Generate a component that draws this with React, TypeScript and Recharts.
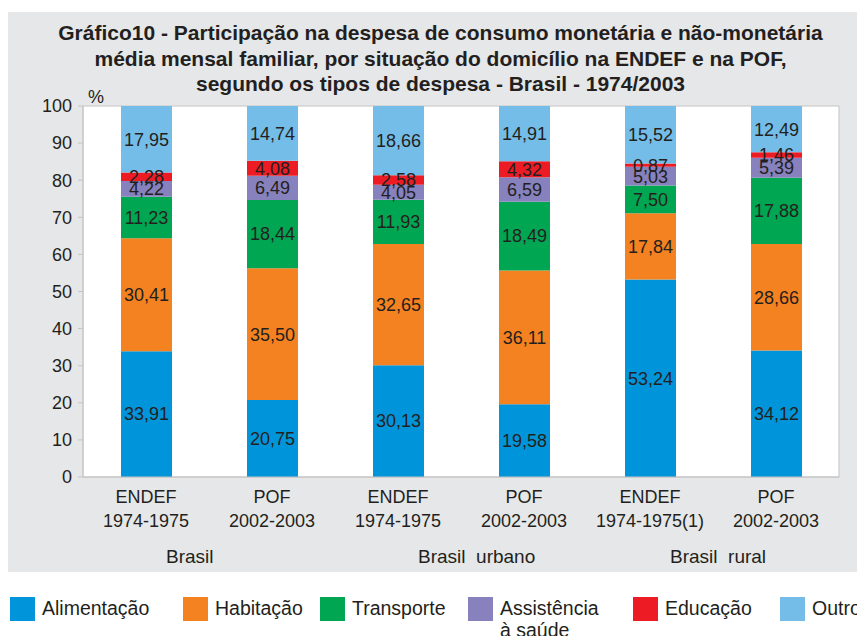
import React from 'react'
import { BarChart, Bar, XAxis, YAxis, CartesianGrid, LabelList, ReferenceArea } from 'recharts'

// categorias (duas linhas) e grupos
const CAT_TOP = ['ENDEF', 'POF', 'ENDEF', 'POF', 'ENDEF', 'POF']
const CAT_BOTTOM = ['1974-1975', '2002-2003', '1974-1975', '2002-2003', '1974-1975(1)', '2002-2003']
const GROUPS = ['Brasil', '', 'Brasil  urbano', '', 'Brasil  rural', '']

// % por tipo de despesa
const alimentacao = [33.91, 20.75, 30.13, 19.58, 53.24, 34.12]
const habitacao = [30.41, 35.5, 32.65, 36.11, 17.84, 28.66]
const transporte = [11.23, 18.44, 11.93, 18.49, 7.5, 17.88]
const saude = [4.22, 6.49, 4.05, 6.59, 5.03, 5.39]
const educacao = [2.28, 4.08, 2.58, 4.32, 0.87, 1.46]
const outros = [17.95, 14.74, 18.66, 14.91, 15.52, 12.49]

const Y_TICKS = [0, 10, 20, 30, 40, 50, 60, 70, 80, 90, 100]

const SERIES = [
  { key: 'alimentacao', name: 'Alimentação', values: alimentacao, color: '#0095da' },
  { key: 'habitacao', name: 'Habitação', values: habitacao, color: '#f58220' },
  { key: 'transporte', name: 'Transporte', values: transporte, color: '#00a651' },
  { key: 'saude', name: 'Assistência à saúde', values: saude, color: '#8781bd' },
  { key: 'educacao', name: 'Educação', values: educacao, color: '#ed1c24' },
  { key: 'outros', name: 'Outros', values: outros, color: '#74bde8' },
]

const data = CAT_TOP.map((_, i) => {
  const row: Record<string, any> = { key: 'c' + i }
  SERIES.forEach(s => { row[s.key] = s.values[i] })
  return row
})

const LEGEND_X = [2, 175, 312, 460, 625, 772]
const TXT = '#231f20'
const AXIS = '#c4c4c4'
const fmt = (v: any) => Number(v).toFixed(2).replace('.', ',')

function CatTick(props: any) {
  const { x, y, index } = props
  return (
    <g fill={TXT} fontSize={18}>
      <text x={x} y={y + 26} textAnchor="middle">{CAT_TOP[index]}</text>
      <text x={x} y={y + 50} textAnchor="middle">{CAT_BOTTOM[index]}</text>
      {GROUPS[index] && (
        <text x={x + 20} y={y + 86} textAnchor="start" fontSize={19} style={{ whiteSpace: 'pre' }}>{GROUPS[index]}</text>
      )}
    </g>
  )
}

export default function App() {
  return (
    <div style={{ position: 'relative', width: 857, height: 628, overflow: 'hidden', fontFamily: '"Liberation Sans", Arial, sans-serif', color: TXT }}>
      <style>{'html,body{overflow:hidden}'}</style>
      <div style={{ position: 'absolute', left: 0, top: 4, width: 857, height: 560, background: '#e6e7e8' }}>
        <div style={{ position: 'absolute', left: 4, top: 8, width: 857, textAlign: 'center', fontWeight: 'bold', fontSize: 21, lineHeight: '25.5px' }}>
          Gráfico10 - Participação na despesa de consumo monetária e não-monetária<br />
          média mensal familiar, por situação do domicílio na ENDEF e na POF,<br />
          segundo os tipos de despesa - Brasil - 1974/2003
        </div>
        <span style={{ position: 'absolute', left: 80, top: 76, fontSize: 18, lineHeight: '18px' }}>%</span>
        <BarChart width={857} height={560} data={data} margin={{ top: 94, right: 26, bottom: 0, left: 0 }}>
          <CartesianGrid horizontal={false} vertical={false} fill="#ffffff" />
          <XAxis dataKey="key" height={95} tick={<CatTick />} tickLine={false} tickSize={0} tickMargin={0} axisLine={{ stroke: AXIS }} interval={0} />
          <YAxis width={75} domain={[0, 100]} ticks={Y_TICKS} tick={{ fill: TXT, fontSize: 18 }} tickSize={5} tickMargin={6} tickLine={{ stroke: AXIS }} axisLine={{ stroke: AXIS }} />
          {SERIES.map(s => (
            <Bar key={s.key} dataKey={s.key} name={s.name} stackId="a" fill={s.color} barSize={51} isAnimationActive={false}>
              <LabelList dataKey={s.key} position="center" fill={TXT} fontSize={18} formatter={fmt} />
            </Bar>
          ))}
          <ReferenceArea y1={0} y2={100} fill="none" stroke={AXIS} ifOverflow="visible" />
        </BarChart>
      </div>
      {SERIES.map((s, i) => (
        <div key={s.key} style={{ position: 'absolute', left: LEGEND_X[i], top: 589, display: 'flex', alignItems: 'flex-start' }}>
          <div style={{ width: 25, height: 24, background: s.color, flex: 'none' }} />
          <div style={{ marginLeft: 7, fontSize: 19.5, lineHeight: '22px', maxWidth: 108, whiteSpace: i === 3 ? 'normal' : 'nowrap' }}>{s.name}</div>
        </div>
      ))}
    </div>
  )
}
